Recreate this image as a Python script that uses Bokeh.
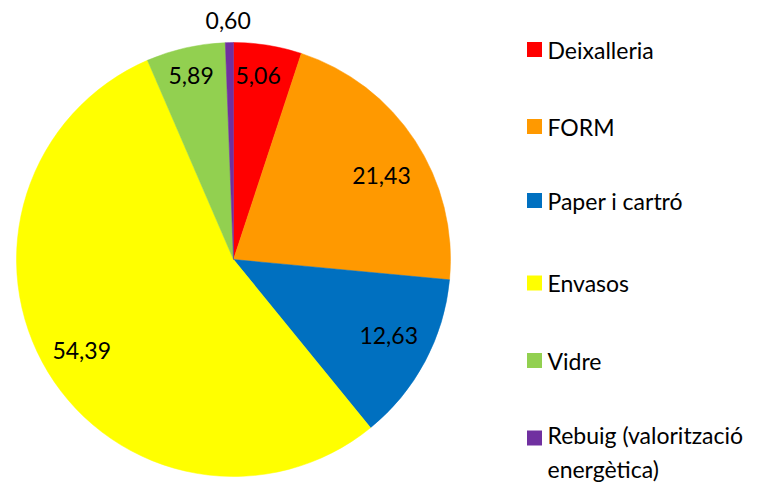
import math
from bokeh.plotting import figure
from bokeh.models import Range1d, ColumnDataSource
from bokeh.core.properties import value
from bokeh.embed import file_html
from bokeh.resources import INLINE

# ---- data ----
categories = ["Deixalleria", "FORM", "Paper i cartró", "Envasos", "Vidre",
              "Rebuig (valorització energètica)"]
values = [5.06, 21.43, 12.63, 54.39, 5.89, 0.60]
colors = ["#FF0000", "#FF9900", "#0070C0", "#FFFF00", "#92D050", "#7030A0"]
legend_texts = ["Deixalleria", "FORM", "Paper i cartró", "Envasos", "Vidre",
                "Rebuig (valorització\nenergètica)"]

# ---- layout (pixel-like data units; y = -pixel row) ----
W, H = 757, 482
cx, cy, R = 233, -259, 217
label_r_frac = [0.857, 0.785, 0.797, 0.815, 0.871, 1.10]
label_shift_deg = [-1.5, 3.5, -1.9, 0.4, -0.2, -0.2]
legend_y = [-49, -126, -200, -282.5, -360, -451.5]
legend_sq_y = [-49, -126, -200, -282.5, -360, -437.5]
legend_sq_x = 534
legend_txt_x = 547
FONT = "Lato"

total = sum(values)
starts, ends, lx, ly, ltxt = [], [], [], [], []
cum = 0.0
for i, v in enumerate(values):
    a0 = cum / total * 360.0
    a1 = (cum + v) / total * 360.0
    cum += v
    # clockwise from 12 o'clock -> bokeh angles (ccw from +x)
    starts.append(math.radians(90.0 - a1))
    ends.append(math.radians(90.0 - a0))
    mid = (a0 + a1) / 2.0 + label_shift_deg[i]
    r = R * label_r_frac[i]
    lx.append(cx + r * math.sin(math.radians(mid)))
    ly.append(cy + r * math.cos(math.radians(mid)))
    ltxt.append(("%.2f" % v).replace(".", ","))

src = ColumnDataSource(dict(start=starts, end=ends, color=colors,
                            lx=lx, ly=ly, ltxt=ltxt,
                            gy=legend_y, sy=legend_sq_y, gtxt=legend_texts))

p = figure(width=W, height=H, output_backend="svg", toolbar_location=None,
           x_range=Range1d(0, W), y_range=Range1d(-H, 0),
           min_border=0, min_border_left=0, min_border_right=0,
           min_border_top=0, min_border_bottom=0)
p.axis.visible = False
p.grid.visible = False
p.outline_line_color = None
p.background_fill_color = "white"
p.border_fill_color = "white"

p.wedge(x=cx, y=cy, radius=R, start_angle="start", end_angle="end",
        fill_color="color", line_color="color", line_width=0.5, source=src)

p.text(x="lx", y="ly", text="ltxt", source=src, text_font=value(FONT),
       text_font_size="23px", text_color="#000000",
       text_align="center", text_baseline="middle")

# legend
p.rect(x=legend_sq_x, y="sy", width=15, height=15, fill_color="color",
       line_color=None, source=src)
p.text(x=legend_txt_x, y="gy", text="gtxt", source=src, text_font=value(FONT),
       text_font_size="23px", text_color="#000000", text_line_height=1.2,
       text_align="left", text_baseline="middle")

open("out.html", "w").write(file_html(p, INLINE))
